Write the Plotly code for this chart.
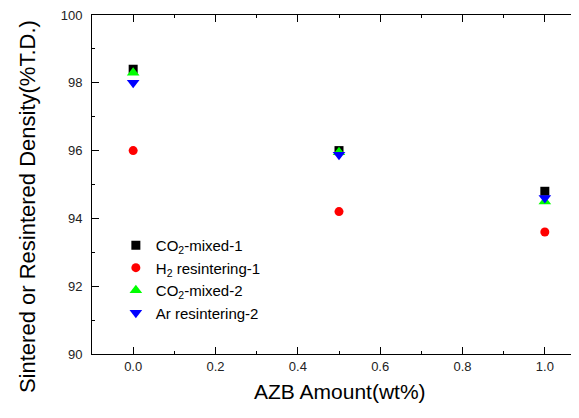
import plotly.graph_objects as go

azb = [0.0, 0.5, 1.0]
co2_mixed_1 = [98.4, 96.0, 94.8]
h2_resintering_1 = [96.0, 94.2, 93.6]
co2_mixed_2 = [98.3, 95.95, 94.5]
ar_resintering_2 = [98.0, 95.88, 94.6]

series = [
    ("CO<sub>2</sub>-mixed-1", co2_mixed_1, "square", "#000000", 9),
    ("H<sub>2</sub> resintering-1", h2_resintering_1, "circle", "#ff0000", 9),
    ("CO<sub>2</sub>-mixed-2", co2_mixed_2, "triangle-up", "#00ff00", 11),
    ("Ar resintering-2", ar_resintering_2, "triangle-down", "#0000ff", 11),
]

fig = go.Figure()
for name, vals, sym, col, sz in series:
    fig.add_trace(go.Scatter(
        x=azb, y=vals, mode="markers", name=name,
        marker=dict(symbol=sym, color=col, size=sz, line=dict(width=0)),
    ))

font = "Liberation Sans, Arial, sans-serif"
fig.update_layout(
    width=571, height=410,
    margin=dict(l=84, r=0, t=7, b=64),
    paper_bgcolor="white", plot_bgcolor="white",
    font=dict(family=font, color="#000000"),
    showlegend=True,
    legend=dict(x=0.049, y=0.369, xanchor="left", yanchor="top",
                bgcolor="rgba(0,0,0,0)", font=dict(size=15, family=font),
                tracegroupgap=0),
    xaxis=dict(
        range=[-0.1, 1.083], showgrid=False, zeroline=False, automargin=False,
        showline=True, linecolor="#000000", linewidth=1, mirror="ticks",
        ticks="inside", ticklen=7, tickcolor="#000000",
        tickvals=[0.0, 0.2, 0.4, 0.6, 0.8, 1.0],
        ticktext=["0.0", "0.2", "0.4", "0.6", "0.8", "1.0"],
        minor=dict(ticks="inside", ticklen=3, dtick=0.1, tick0=0, tickcolor="#000000", showgrid=False),
        tickfont=dict(size=13, color="#222222"),
        ticklabeloverflow="allow",
    ),
    yaxis=dict(
        range=[90, 100], showgrid=False, zeroline=False, automargin=False,
        showline=True, linecolor="#000000", linewidth=1, mirror=False,
        ticks="inside", ticklen=7, tickcolor="#000000",
        tickvals=[90, 92, 94, 96, 98, 100],
        minor=dict(ticks="inside", ticklen=3, dtick=1, tick0=90, tickcolor="#000000", showgrid=False),
        tickfont=dict(size=13, color="#222222"),
        ticklabelstandoff=6,
        ticklabeloverflow="allow",
    ),
    annotations=[
        dict(text="AZB Amount(wt%)", xref="paper", yref="paper", x=0.509, y=-0.112,
             xanchor="center", yanchor="middle", showarrow=False, font=dict(size=21)),
        dict(text="Sintered or Resintered Density(%T.D.)", xref="paper", yref="paper",
             x=-0.131, y=0.434, xanchor="center", yanchor="middle", textangle=-90,
             showarrow=False, font=dict(size=22)),
    ],
)

fig.write_html("out.html")
